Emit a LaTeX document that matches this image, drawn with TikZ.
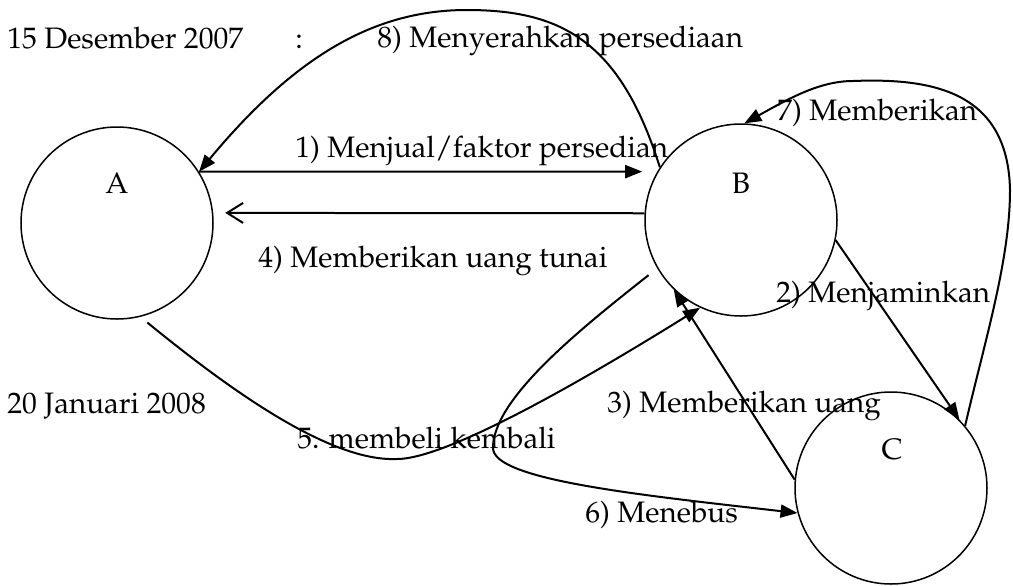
\documentclass[tikz,border=0pt]{standalone}
\usepackage[T1]{fontenc}
\usepackage{mathpazo}
\usetikzlibrary{arrows.meta}

\begin{document}
\begin{tikzpicture}[x=0.5pt, y=-0.5pt,
    >={Triangle[length=8.5pt,width=6.5pt]},
    every node/.style={font=\fontsize{14.8}{18}\selectfont},
    party/.style={draw, circle, line width=0.75pt, minimum size=96pt, inner sep=0pt},
    flow/.style={->, line width=1pt},
    note/.style={anchor=base west, inner sep=0pt}]

  \useasboundingbox (0,0) rectangle (1013,585);

  \node[party] (A) at (117,223) {};
  \node[party] (B) at (741,220) {};
  \node[party] (C) at (891,488) {};
  \node (Aname) at (117,183) {A};
  \node (Bname) at (741,183) {B};
  \node (Cname) at (892,450) {C};

  \node[note] (date1) at (7,48)    {15 Desember 2007};
  \node[note] (colon) at (295,48)  {:};
  \node[note] (date2) at (7,413)   {20 Januari 2008};

  \node[note] (lab1) at (295,157)  {1) Menjual/faktor persedian};
  \node[note] (lab2) at (776,302)  {2) Menjaminkan};
  \node[note] (lab3) at (607,412)  {3) Memberikan uang};
  \node[note] (lab4) at (258,267)  {4) Memberikan uang tunai};
  \node[note] (lab5) at (297,448)  {5. membeli kembali};
  \node[note] (lab6) at (585,522)  {6) Menebus};
  \node[note] (lab7) at (777,120)  {7) Memberikan};
  \node[note] (lab8) at (377,47)   {8) Menyerahkan persediaan};

  \draw[flow, shorten >=7.5pt] (A.32) -- (B.150);
  \draw[line width=1pt, -{Straight Barb[length=8pt,width=10pt]}, shorten >=6pt] (B.176) -- (A.6);
  \draw[flow] (B.147) .. controls (620,40) and (560,10) .. (467,10)
    .. controls (380,10) and (300,50) .. (A.32);
  \draw[flow] (B.-12) -- (C.45);
  \draw[flow] (C.175) -- (B.-134);
  \draw[flow, shorten <=4.5pt] (A.-76) .. controls (230,390) and (330,462) .. (397,459)
    .. controls (450,459) and (600,370) .. (B.-115);
  \draw[flow, shorten <=5.5pt] (B.-150) .. controls (575,333) and (493,400) .. (493,448)
    .. controls (493,480) and (640,495) .. (C.-165);
  \draw[flow] (C.40) .. controls (985,340) and (1010,260) .. (1010,190)
    .. controls (1008,90) and (930,78) .. (853,81)
    .. controls (820,81) and (790,98) .. (B.88);
\end{tikzpicture}
\end{document}
